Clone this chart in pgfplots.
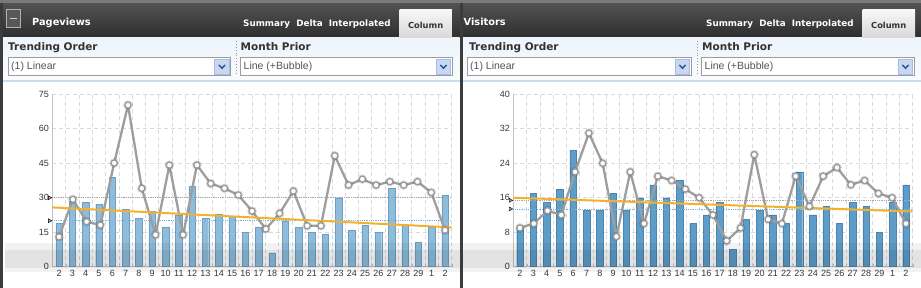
\documentclass[border=0pt]{standalone}
\usepackage{fontspec}
\setmainfont{Liberation Sans}
\newfontfamily\vb{DejaVu Sans}
\usepackage{pgfplots}
\pgfplotsset{compat=1.18}
\definecolor{hdrtop}{HTML}{525252}
\definecolor{hdrbot}{HTML}{2E2E2E}
\definecolor{hdredge}{HTML}{7A7A7A}
\definecolor{bord}{HTML}{3C3C3C}
\definecolor{tabtop}{HTML}{F8F8F8}
\definecolor{tabbot}{HTML}{D8D8D8}
\definecolor{ctltop}{HTML}{EDF4FB}
\definecolor{ctlbot}{HTML}{FAFCFE}
\definecolor{ctlline}{HTML}{C6DCEF}
\definecolor{ddborder}{HTML}{9C9C9C}
\definecolor{arrowfill}{HTML}{C8D8F3}
\definecolor{arrowdraw}{HTML}{A6BCE4}
\definecolor{chevron}{HTML}{2D4F93}
\definecolor{barL}{HTML}{8EBCDA}
\definecolor{barLd}{HTML}{6C9FC4}
\definecolor{barR}{HTML}{5E9DC8}
\definecolor{barRd}{HTML}{4A86B0}
\definecolor{lineg}{HTML}{9E9E9E}
\definecolor{bubble}{HTML}{9A9A9A}
\definecolor{trend}{HTML}{F4B22C}
\definecolor{gridc}{HTML}{DADADA}
\definecolor{axisc}{HTML}{C4C4C4}
\definecolor{avgg}{HTML}{A8A8A8}
\definecolor{avgb}{HTML}{7FB2DB}
\definecolor{labc}{HTML}{383838}
\definecolor{ddtext}{HTML}{555555}
\definecolor{ctltext}{HTML}{333333}

\pgfplotsset{
  myaxis/.style={
    scale only axis, width=399.3pt, height=172.4pt, anchor=south west,
    xmin=-0.5, xmax=29.5, ymin=0,
    axis lines*=left, axis line style={draw=axisc, line width=0.8pt},
    xtick={0,...,29},
    xticklabels={2,3,4,5,6,7,8,9,10,11,12,13,14,15,16,17,18,19,20,21,22,23,24,25,26,27,28,29,1,2},
    minor xtick={-0.5,0.5,...,29.5},
    xminorgrids, ymajorgrids,
    major grid style={draw=gridc, line width=0.8pt, dash pattern=on 4pt off 3pt},
    minor grid style={draw=gridc, line width=0.8pt, dash pattern=on 4pt off 3pt},
    major x tick style={draw=none}, major y tick style={draw=none},
    minor x tick style={draw=axisc}, minor tick length=3pt,
    tick label style={font=\fontsize{9}{10}\selectfont, text=labc},
    xticklabel style={inner sep=1.5pt, yshift=-1.5pt},
    /pgf/number format/assume math mode=true,
    clip=false,
  },
  bubbles/.style={only marks, mark=*, mark size=3.1pt, mark options={fill=white, draw=bubble, line width=1.3pt}},
  halo/.style={only marks, mark=*, mark size=4.6pt, mark options={fill=black, draw=none, opacity=0.10}},
}

\begin{document}
\begin{tikzpicture}
\useasboundingbox (0pt,0pt) rectangle (921pt,-288pt);
\begin{scope}[x=1pt,y=-1pt]
  \fill[white] (0,0) rectangle (921,288);
  % header band
  \shade[top color=hdrtop, bottom color=hdrbot] (0,3) rectangle (921,38);
  \fill[hdredge] (0,0) rectangle (921,3.5);
  % control areas
  \shade[top color=ctltop, bottom color=ctlbot] (3,38) rectangle (459.5,81);
  \shade[top color=ctltop, bottom color=ctlbot] (462.5,38) rectangle (921,81);
  \fill[ctlline] (3,80.3) rectangle (459.5,82);
  \fill[ctlline] (462.5,80.3) rectangle (921,82);
  % tabs
  \shade[top color=tabtop, bottom color=tabbot] (399.5,9.3) rectangle (451.8,38);
  \shade[top color=tabtop, bottom color=tabbot] (862.5,9.3) rectangle (915,38);
  \node[anchor=base, text=ctltext, font=\vb\bfseries\fontsize{8.3}{10}\selectfont, inner sep=0] at (425.6,28.5) {Column};
  \node[anchor=base, text=ctltext, font=\vb\bfseries\fontsize{8.3}{10}\selectfont, inner sep=0] at (888.7,28.5) {Column};
  \node[anchor=base west, text=white, font=\vb\bfseries\fontsize{8.8}{10}\selectfont, inner sep=0] at (243,26.5) {Summary\ \ Delta\ \ Interpolated};
  \node[anchor=base west, text=white, font=\vb\bfseries\fontsize{8.8}{10}\selectfont, inner sep=0] at (706,26.5) {Summary\ \ Delta\ \ Interpolated};
  % minus box and titles
  \draw[draw=white!70!black, line width=0.9pt, fill=hdrbot!80!white] (6.5,9.8) rectangle (20.5,27);
  \draw[draw=white!82!black, line width=1.6pt] (10,18.4) -- (17,18.4);
  \node[anchor=base west, text=white, font=\vb\bfseries\fontsize{9.8}{12}\selectfont, inner sep=0] at (32,26) {Pageviews};
  \node[anchor=base west, text=white, font=\vb\bfseries\fontsize{9.8}{12}\selectfont, inner sep=0] at (463.5,25.3) {Visitors};
  % control labels
  \foreach \xa/\xb in {8/240.5, 469/702} {
    \node[anchor=base west, text=ctltext, font=\vb\bfseries\fontsize{10.5}{12}\selectfont, inner sep=0] at (\xa,51) {Trending Order};
    \node[anchor=base west, text=ctltext, font=\vb\bfseries\fontsize{10.5}{12}\selectfont, inner sep=0] at (\xb,51) {Month Prior};
  }
  \foreach \l/\r in {8/230.5, 240/452, 467/691, 701/914} {
    \draw[draw=ddborder, fill=white, line width=0.9pt] (\l,57.5) rectangle (\r,75.8);
    \draw[draw=arrowdraw, fill=arrowfill, line width=0.7pt] ({\r-15.8},59) rectangle ({\r-1.2},74.3);
    \draw[draw=chevron, line width=1.5pt] ({\r-11.6},65) -- ({\r-8.5},68.2) -- ({\r-5.4},65);
  }
  \draw[ddborder, dotted, line width=0.9pt] (236.5,41) -- (236.5,75);
  \draw[ddborder, dotted, line width=0.9pt] (697,41) -- (697,75);
  \node[anchor=base west, text=ddtext, font=\fontsize{10.5}{12}\selectfont, inner sep=0] at (11,70) {(1) Linear};
  \node[anchor=base west, text=ddtext, font=\fontsize{10.5}{12}\selectfont, inner sep=0] at (243.5,70) {Line (+Bubble)};
  \node[anchor=base west, text=ddtext, font=\fontsize{10.5}{12}\selectfont, inner sep=0] at (470,70) {(1) Linear};
  \node[anchor=base west, text=ddtext, font=\fontsize{10.5}{12}\selectfont, inner sep=0] at (704.5,70) {Line (+Bubble)};
\end{scope}

% ---------------- Pageviews ----------------
\begin{axis}[myaxis, at={(52.4pt,-266.7pt)}, ymax=75, ytick={0,15,30,45,60,75}]
\addplot[ybar, bar width=6.5pt, bar shift=0pt, fill=barL, draw=barLd, line width=0.4pt] coordinates {
(0,19) (1,28.5) (2,28) (3,27) (4,39) (5,25) (6,21) (7,24) (8,17) (9,22.5)
(10,35) (11,21) (12,23) (13,22) (14,15) (15,17) (16,6) (17,20) (18,17) (19,15)
(20,14) (21,30) (22,16) (23,18) (24,15) (25,34) (26,18) (27,10.5) (28,17) (29,31)};
\addplot[densely dotted, avgg, line width=0.8pt] coordinates {(-0.5,30) (29.5,30)};
\addplot[densely dotted, avgb, line width=0.8pt] coordinates {(-0.5,20) (29.5,20)};
\addplot[only marks, mark=triangle*, mark size=2.3pt, mark options={rotate=-90, fill=avgg, draw=none}] coordinates {(-0.72,30)};
\addplot[only marks, mark=triangle*, mark size=2.3pt, mark options={rotate=-90, fill=avgb, draw=none}] coordinates {(-0.72,20)};
\addplot[lineg, line width=2.3pt, line join=round] table {
x y
0 13
1.036 29.3
2.071 19.6
3.107 18.1
4.143 45.1
5.179 70.3
6.214 34.1
7.25 13.9
8.286 44.2
9.321 13.9
10.357 44.2
11.393 36.2
12.429 34.1
13.464 31.2
14.5 24.2
15.536 16.4
16.571 23.2
17.607 32.9
18.643 17.8
19.679 17.8
20.714 48.3
21.75 35.5
22.786 38.1
23.821 35.5
24.857 37
25.893 35.5
26.929 37
27.964 32.3
29 15.9
};
\addplot[trend, line width=2pt] coordinates {(-0.5,25.8) (29.5,17.1)};
\addplot[halo] table {
x y
0 13
1.036 29.3
2.071 19.6
3.107 18.1
4.143 45.1
5.179 70.3
6.214 34.1
7.25 13.9
8.286 44.2
9.321 13.9
10.357 44.2
11.393 36.2
12.429 34.1
13.464 31.2
14.5 24.2
15.536 16.4
16.571 23.2
17.607 32.9
18.643 17.8
19.679 17.8
20.714 48.3
21.75 35.5
22.786 38.1
23.821 35.5
24.857 37
25.893 35.5
26.929 37
27.964 32.3
29 15.9
};
\addplot[bubbles] table {
x y
0 13
1.036 29.3
2.071 19.6
3.107 18.1
4.143 45.1
5.179 70.3
6.214 34.1
7.25 13.9
8.286 44.2
9.321 13.9
10.357 44.2
11.393 36.2
12.429 34.1
13.464 31.2
14.5 24.2
15.536 16.4
16.571 23.2
17.607 32.9
18.643 17.8
19.679 17.8
20.714 48.3
21.75 35.5
22.786 38.1
23.821 35.5
24.857 37
25.893 35.5
26.929 37
27.964 32.3
29 15.9
};
\end{axis}

% ---------------- Visitors ----------------
\begin{axis}[myaxis, at={(513.3pt,-266.7pt)}, ymax=40, ytick={0,8,16,24,32,40}]
\addplot[ybar, bar width=6.5pt, bar shift=0pt, fill=barR, draw=barRd, line width=0.4pt] coordinates {
(0,9) (1,17) (2,15) (3,18) (4,27) (5,13) (6,13) (7,17) (8,13) (9,16)
(10,19) (11,16) (12,20) (13,10) (14,12) (15,15) (16,4) (17,11) (18,13) (19,12)
(20,10) (21,22) (22,12) (23,14) (24,10) (25,15) (26,14) (27,8) (28,15) (29,19)};
\addplot[densely dotted, avgg, line width=0.8pt] coordinates {(-0.5,15.4) (29.5,15.4)};
\addplot[densely dotted, avgb, line width=0.8pt] coordinates {(-0.5,13.4) (29.5,13.4)};
\addplot[only marks, mark=triangle*, mark size=2.3pt, mark options={rotate=-90, fill=avgg, draw=none}] coordinates {(-0.72,15.4)};
\addplot[only marks, mark=triangle*, mark size=2.3pt, mark options={rotate=-90, fill=avgb, draw=none}] coordinates {(-0.72,13.4)};
\addplot[lineg, line width=2.3pt, line join=round] table {
x y
0 9
1.036 10
2.071 13
3.107 12
4.143 22
5.179 31
6.214 24
7.25 7
8.286 22
9.321 10
10.357 21
11.393 20
12.429 18
13.464 16
14.5 12
15.536 6
16.571 9
17.607 26
18.643 11
19.679 10
20.714 21
21.75 14
22.786 21
23.821 23
24.857 19
25.893 20
26.929 17
27.964 16
29 10
};
\addplot[trend, line width=2pt] coordinates {(-0.5,16.0) (29.5,12.8)};
\addplot[halo] table {
x y
0 9
1.036 10
2.071 13
3.107 12
4.143 22
5.179 31
6.214 24
7.25 7
8.286 22
9.321 10
10.357 21
11.393 20
12.429 18
13.464 16
14.5 12
15.536 6
16.571 9
17.607 26
18.643 11
19.679 10
20.714 21
21.75 14
22.786 21
23.821 23
24.857 19
25.893 20
26.929 17
27.964 16
29 10
};
\addplot[bubbles] table {
x y
0 9
1.036 10
2.071 13
3.107 12
4.143 22
5.179 31
6.214 24
7.25 7
8.286 22
9.321 10
10.357 21
11.393 20
12.429 18
13.464 16
14.5 12
15.536 6
16.571 9
17.607 26
18.643 11
19.679 10
20.714 21
21.75 14
22.786 21
23.821 23
24.857 19
25.893 20
26.929 17
27.964 16
29 10
};
\end{axis}

\begin{scope}[x=1pt,y=-1pt]
  % soft grey band near the bottom of the plots
  \fill[black, opacity=0.05] (5,243) rectangle (459.5,250);
  \fill[black, opacity=0.11] (5,250) rectangle (459.5,268);
  \fill[black, opacity=0.05] (5,268) rectangle (459.5,272);
  \fill[black, opacity=0.05] (462.5,243) rectangle (921,250);
  \fill[black, opacity=0.11] (462.5,250) rectangle (921,268);
  \fill[black, opacity=0.05] (462.5,268) rectangle (921,272);
  % panel borders
  \fill[bord] (0,3.5) rectangle (3,288);
  \fill[bord] (459.5,3.5) rectangle (462.5,288);
\end{scope}
\end{tikzpicture}
\end{document}
